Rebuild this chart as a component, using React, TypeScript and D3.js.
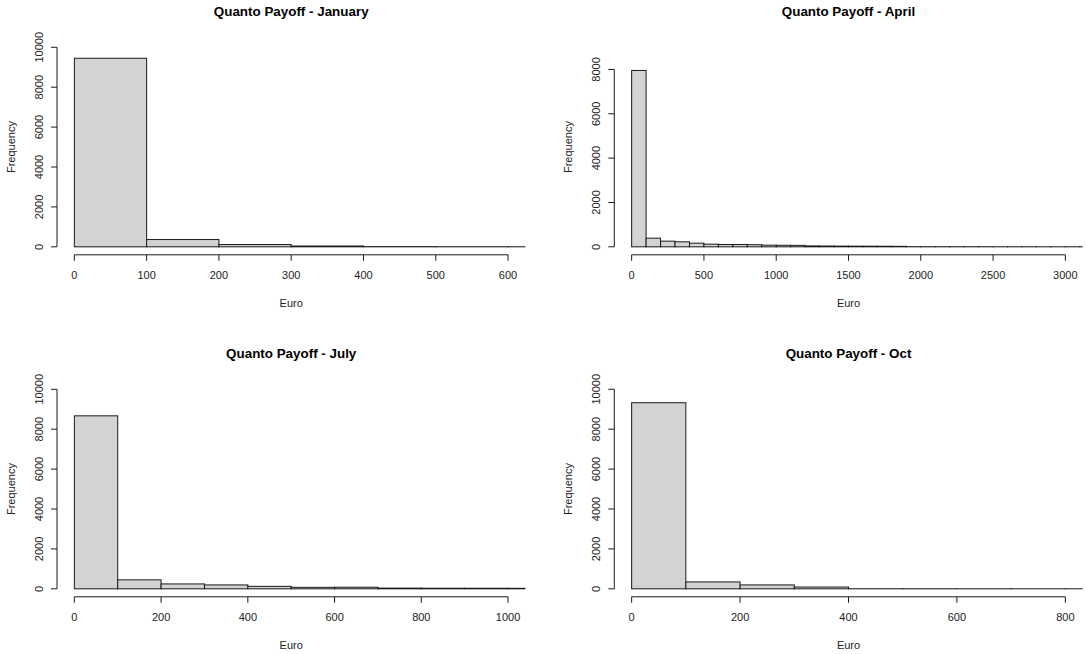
import React from 'react';
import * as d3 from 'd3';

const binWidth = 100;

const janCounts = [9450, 365, 115, 40, 10, 4, 2];
const aprCounts = [7955, 390, 256, 226, 165, 120, 105, 105, 95, 75, 70, 65, 40, 35, 32, 30, 28, 25, 22, 6, 5, 4, 4, 3, 3, 2, 2, 2, 1, 1, 1, 1];
const julCounts = [8670, 450, 245, 195, 125, 75, 80, 35, 30, 28, 25];
const octCounts = [9326, 345, 195, 90, 4, 3, 2, 1, 1];

const janXTicks = [0, 100, 200, 300, 400, 500, 600];
const aprXTicks = [0, 500, 1000, 1500, 2000, 2500, 3000];
const julXTicks = [0, 200, 400, 600, 800, 1000];
const octXTicks = [0, 200, 400, 600, 800];

const yTicks10k = [0, 2000, 4000, 6000, 8000, 10000];
const yTicks8k = [0, 2000, 4000, 6000, 8000];

const titles = ['Quanto Payoff - January', 'Quanto Payoff - April', 'Quanto Payoff - July', 'Quanto Payoff - Oct'];
const xLabel = 'Euro';
const yLabel = 'Frequency';

const panels = [
  { title: titles[0], counts: janCounts, xMax: 600, yMax: 10000, xTicks: janXTicks, yTicks: yTicks10k, col: 0, row: 0 },
  { title: titles[1], counts: aprCounts, xMax: 3000, yMax: 9000, xTicks: aprXTicks, yTicks: yTicks8k, col: 1, row: 0 },
  { title: titles[2], counts: julCounts, xMax: 1000, yMax: 10000, xTicks: julXTicks, yTicks: yTicks10k, col: 0, row: 1 },
  { title: titles[3], counts: octCounts, xMax: 800, yMax: 10000, xTicks: octXTicks, yTicks: yTicks10k, col: 1, row: 1 },
];

const colLeft = [57, 614.3];
const rowTop = [39.3, 381.3];
const plotW = 468.4;
const plotH = 215.5;
const font = '"Liberation Sans", Arial, sans-serif';

function Panel({ p, idx }: { p: any; idx: number }) {
  const left = colLeft[p.col];
  const top = rowTop[p.row];
  const bottom = top + plotH;
  const x = d3.scaleLinear().domain([-0.04 * p.xMax, 1.04 * p.xMax]).range([left, left + plotW]);
  const y = d3.scaleLinear().domain([-0.04 * p.yMax, 1.04 * p.yMax]).range([bottom, top]);
  const clipId = `clip${idx}`;
  const lastX = p.xTicks[p.xTicks.length - 1];
  const lastY = p.yTicks[p.yTicks.length - 1];
  const cx = left + plotW / 2;
  const cy = top + plotH / 2;
  return (
    <g>
      <defs>
        <clipPath id={clipId}>
          <rect x={left} y={top} width={plotW} height={plotH} />
        </clipPath>
      </defs>
      <text x={cx} y={top - 23.3} textAnchor="middle" fontFamily={font} fontWeight="bold" fontSize={13.4} fill="#000">{p.title}</text>
      <g clipPath={`url(#${clipId})`}>
        {p.counts.map((c: number, i: number) => {
          const x0 = x(i * binWidth);
          const x1 = x((i + 1) * binWidth);
          return (
            <rect key={i} x={x0} y={y(c)} width={x1 - x0} height={y(0) - y(c)} fill="#d3d3d3" stroke="#1a1a1a" strokeWidth={1} />
          );
        })}
      </g>
      {/* x axis */}
      <line x1={x(0)} x2={x(lastX)} y1={bottom} y2={bottom} stroke="#1a1a1a" strokeWidth={1} />
      {p.xTicks.map((t: number) => (
        <g key={`xt${t}`}>
          <line x1={x(t)} x2={x(t)} y1={bottom} y2={bottom + 6} stroke="#1a1a1a" strokeWidth={1} />
          <text x={x(t)} y={bottom + 24} textAnchor="middle" fontFamily={font} fontSize={11} fill="#222">{t}</text>
        </g>
      ))}
      <text x={cx} y={bottom + 52.5} textAnchor="middle" fontFamily={font} fontSize={11} fill="#222">{xLabel}</text>
      {/* y axis */}
      <line x1={left} x2={left} y1={y(0)} y2={y(lastY)} stroke="#1a1a1a" strokeWidth={1} />
      {p.yTicks.map((t: number) => (
        <g key={`yt${t}`}>
          <line x1={left - 6} x2={left} y1={y(t)} y2={y(t)} stroke="#1a1a1a" strokeWidth={1} />
          <text transform={`translate(${left - 14},${y(t)}) rotate(-90)`} textAnchor="middle" fontFamily={font} fontSize={11} fill="#222">{t}</text>
        </g>
      ))}
      <text transform={`translate(${left - 42.5},${cy}) rotate(-90)`} textAnchor="middle" fontFamily={font} fontSize={11} fill="#222">{yLabel}</text>
    </g>
  );
}

export default function App() {
  return (
    <svg width={1086} height={654} style={{ position: 'absolute', left: 0, top: 0, background: '#fff' }}>
      <rect x={0} y={0} width={1086} height={654} fill="#fff" />
      {panels.map((p, i) => (
        <Panel key={i} p={p} idx={i} />
      ))}
    </svg>
  );
}
